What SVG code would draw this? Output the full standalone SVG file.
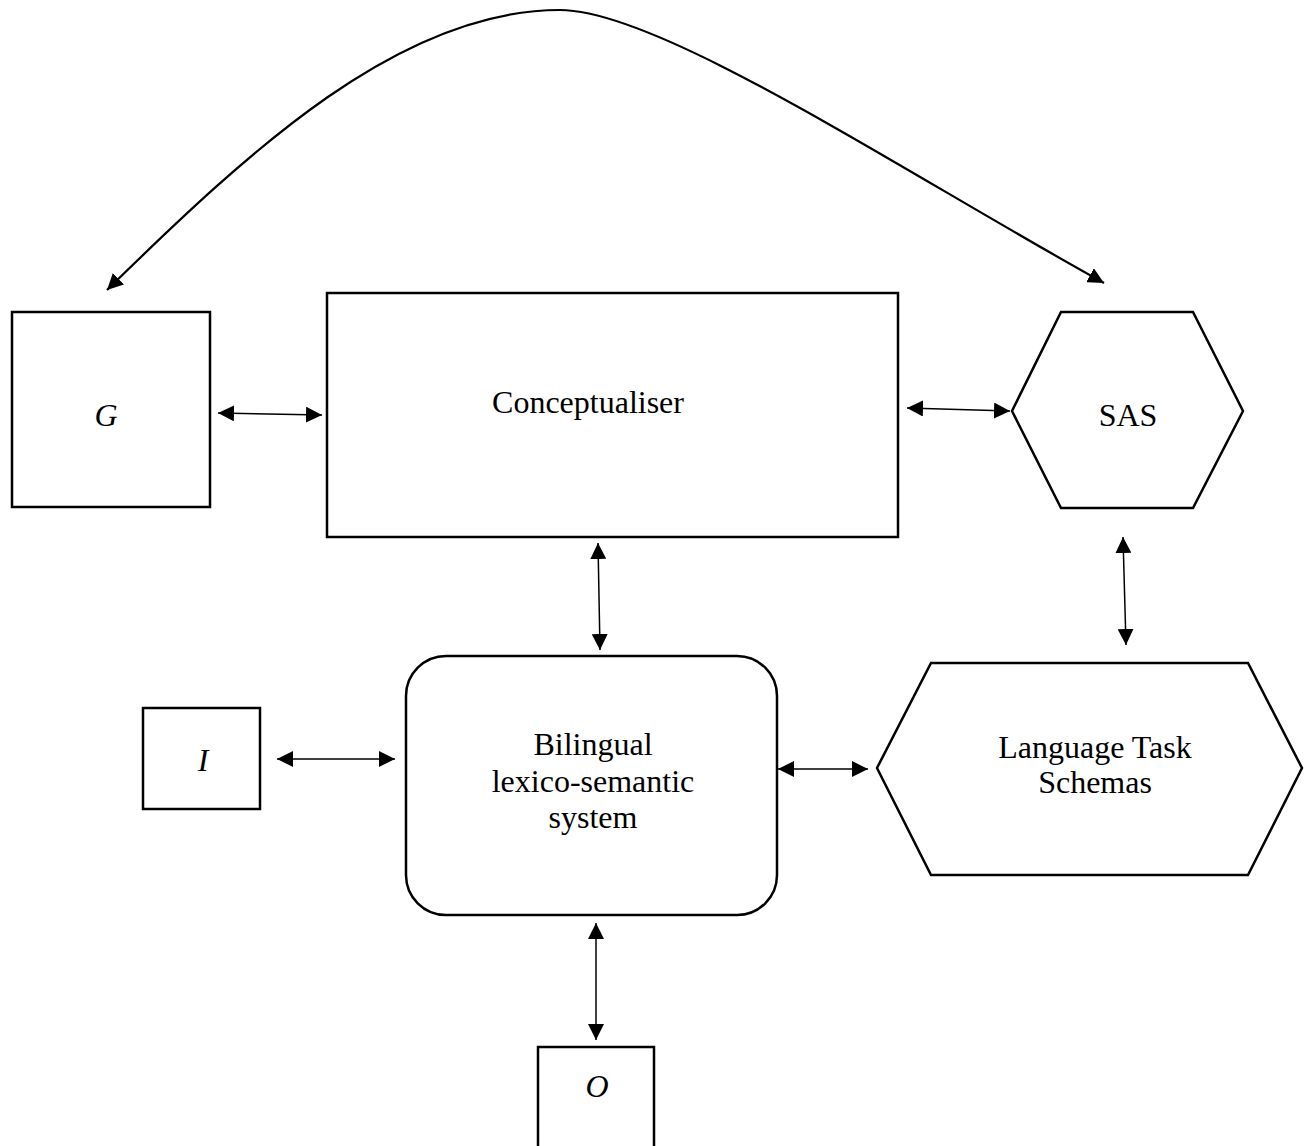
<svg xmlns="http://www.w3.org/2000/svg" width="1312" height="1146" viewBox="0 0 1312 1146">
<style>
.box{fill:#fff;stroke:#000;stroke-width:2.5}
.lbl{font-family:"Liberation Serif","Times New Roman",serif;font-size:32px;fill:#000;text-anchor:middle}
.it{font-style:italic}
.conn{fill:none;stroke:#000;stroke-width:1.5;marker-start:url(#ah);marker-end:url(#ah)}
.curve{stroke-width:2.2}
</style>
<defs>
<marker id="ah" viewBox="0 0 16 16" refX="16" refY="8" markerWidth="16" markerHeight="16" markerUnits="userSpaceOnUse" orient="auto-start-reverse">
<path d="M0,0 L16,8 L0,16 z" fill="#000"/>
</marker>
</defs>
<rect width="1312" height="1146" fill="#fff"/>
<g id="node-G">
<rect class="box" x="12" y="312" width="198" height="195"/>
<text class="lbl it" x="106" y="426">G</text>
</g>
<g id="node-conceptualiser">
<rect class="box" x="327" y="293" width="571" height="244"/>
<text class="lbl" x="588" y="413">Conceptualiser</text>
</g>
<g id="node-SAS">
<polygon class="box" points="1061,312 1193,312 1243,411 1193,508 1061,508 1012,411"/>
<text class="lbl" x="1128" y="426">SAS</text>
</g>
<g id="node-I">
<rect class="box" x="143" y="708" width="117" height="101"/>
<text class="lbl it" x="203" y="771">I</text>
</g>
<g id="node-bilingual">
<rect class="box" x="406" y="656" width="371" height="259" rx="40" ry="40"/>
<text class="lbl" x="593" y="755">Bilingual</text>
<text class="lbl" x="593" y="792">lexico-semantic</text>
<text class="lbl" x="593" y="828">system</text>
</g>
<g id="node-LTS">
<polygon class="box" points="931,663 1248,663 1302,768 1248,875 931,875 877,768"/>
<text class="lbl" x="1095" y="758">Language Task</text>
<text class="lbl" x="1095" y="793">Schemas</text>
</g>
<g id="node-O">
<rect class="box" x="538" y="1047" width="116" height="110"/>
<text class="lbl it" x="597" y="1097">O</text>
</g>
<g id="connectors">
<path class="conn curve" d="M107,290 C250,150 400,10 560,10 C660,10 900,170 1104,283"/>
<path class="conn" d="M218,413 L322,415"/>
<path class="conn" d="M907,408 L1010,411"/>
<path class="conn" d="M598,543 L600,650"/>
<path class="conn" d="M1123,537 L1126,645"/>
<path class="conn" d="M277,759 L395,759"/>
<path class="conn" d="M778,769 L868,769"/>
<path class="conn" d="M596,923 L596,1040"/>
</g>
</svg>
